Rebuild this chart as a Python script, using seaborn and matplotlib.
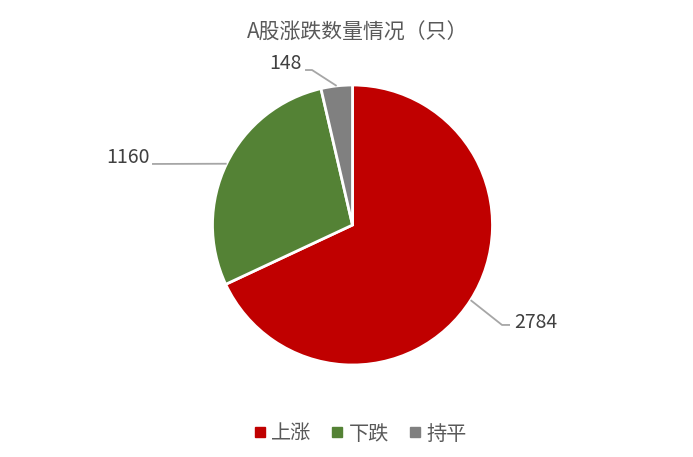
import matplotlib.pyplot as plt
import seaborn as sns
import numpy as np

categories = ['上涨', '下跌', '持平']
counts = [2784, 1160, 148]
colors = ['#C00000', '#548235', '#808080']
title = 'A股涨跌数量情况（只）'

sns.set_theme(style='white')
plt.rcParams['font.family'] = ['Noto Sans CJK SC', 'DejaVu Sans']

fig = plt.figure(figsize=(6.93, 4.57), dpi=100)
# pie area: center ~ (352, 225) px, radius ~140 px
ax = fig.add_axes([212.5 / 693, (457 - 365) / 457, 280 / 693, 280 / 457])
wedges, _ = ax.pie(counts, colors=colors, startangle=90, counterclock=False,
                   radius=1, wedgeprops=dict(edgecolor='white', linewidth=2))
ax.set_xlim(-1, 1)
ax.set_ylim(-1, 1)
ax.set_aspect('equal')
ax.axis('off')

# label layout (text position, elbow, line end) in radius units
label_pos = [(1.311, -0.693), (-1.607, 0.479), (-0.482, 1.157)]
elbow_pos = [(1.068, -0.714), (-1.432, 0.436), (-0.289, 1.107)]
end_pos = [(1.125, -0.714), (-1.432, 0.436), (-0.339, 1.107)]
for w, n, lp, ep, tp in zip(wedges, counts, label_pos, elbow_pos, end_pos):
    ang = np.deg2rad((w.theta1 + w.theta2) / 2)
    x0, y0 = np.cos(ang), np.sin(ang)
    ax.plot([x0, ep[0], tp[0]], [y0, ep[1], tp[1]], color='#A6A6A6', lw=1.3,
            clip_on=False, solid_capstyle='butt')
    ax.text(lp[0], lp[1], str(n), ha='center', va='center', fontsize=14,
            color='#404040', clip_on=False)

fig.text(358 / 693, 1 - 33 / 457, title, ha='center', va='center',
         fontsize=15, color='#595959')

handles = [plt.Line2D([], [], marker='s', ls='', markersize=7.5, color=c) for c in colors]
fig.legend(handles, categories, loc='center', bbox_to_anchor=(358 / 693, 1 - 434 / 457),
           ncol=3, frameon=False, fontsize=14.5, handletextpad=0.05, columnspacing=0.8,
           labelcolor='#595959', handlelength=1.0)

fig.savefig('out.png', dpi=100, facecolor='white')
